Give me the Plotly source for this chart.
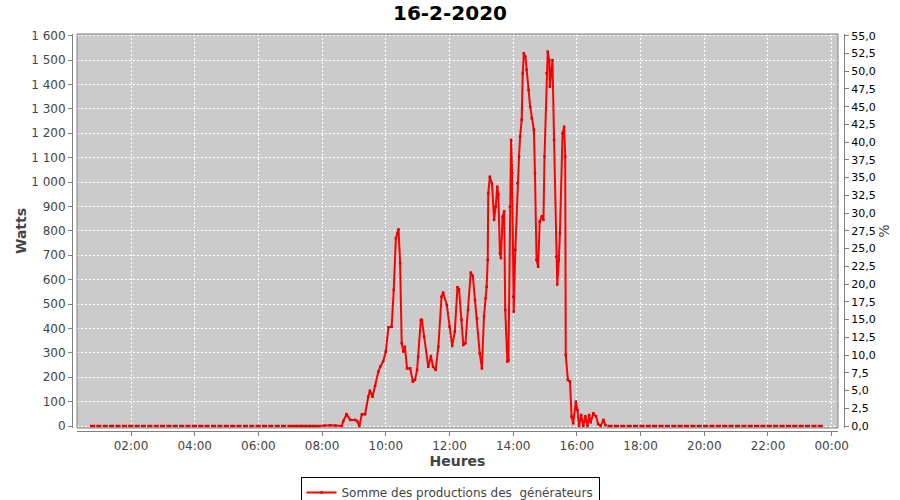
import plotly.graph_objects as go
import pandas as pd

DAY = "2020-02-16"
TITLE = "16-2-2020"
SERIES_NAME = "Somme des productions des \u00a0générateurs"

# Night readings (short runs of zero readings, start times)
morning_dash_times = ["00:45", "00:57", "01:09", "01:21", "01:33", "01:45", "01:57", "02:09",
                      "02:21", "02:33", "02:45", "02:57", "03:09", "03:21", "03:33", "03:45",
                      "03:57", "04:09", "04:21", "04:33", "04:45", "04:57", "05:09", "05:21",
                      "05:33", "05:45", "05:57", "06:09", "06:21", "06:33", "06:45", "06:57",
                      "07:06", "07:14", "07:22", "07:30", "07:38", "07:46"]
evening_dash_times = ["17:00", "17:12", "17:24", "17:36", "17:48", "18:00", "18:12", "18:24",
                      "18:36", "18:48", "19:00", "19:12", "19:24", "19:36", "19:48", "20:00",
                      "20:12", "20:24", "20:36", "20:48", "21:00", "21:12", "21:24", "21:36",
                      "21:48", "22:00", "22:12", "22:24", "22:36", "22:48", "23:00", "23:12",
                      "23:24", "23:36"]
night_watts = 0

# Daytime production (Watts)
day_times = ["07:55", "08:05", "08:15", "08:25", "08:37", "08:40", "08:46", "08:53", "09:02",
             "09:06", "09:10", "09:15", "09:21", "09:27", "09:30", "09:35", "09:40", "09:46",
             "09:50", "09:55", "10:00", "10:05", "10:11", "10:15", "10:19", "10:22", "10:24",
             "10:27", "10:30", "10:33", "10:36", "10:40", "10:46", "10:51", "10:55", "10:59",
             "11:01", "11:06", "11:08", "11:12", "11:20", "11:25", "11:29", "11:34", "11:39",
             "11:45", "11:48", "11:55", "12:00", "12:05", "12:10", "12:15", "12:18", "12:23",
             "12:26", "12:30", "12:35", "12:40", "12:44", "12:48", "12:52", "12:57", "13:01",
             "13:05", "13:08", "13:10", "13:12", "13:13", "13:16", "13:20", "13:24", "13:27",
             "13:30", "13:32", "13:35", "13:37", "13:40", "13:43", "13:45", "13:49", "13:51",
             "13:54", "13:56", "13:58", "14:00", "14:01", "14:04", "14:08", "14:11", "14:13",
             "14:16", "14:18", "14:20", "14:23", "14:25", "14:29", "14:32", "14:35", "14:39",
             "14:41", "14:44", "14:47", "14:50", "14:54", "14:57", "14:59", "15:03", "15:05",
             "15:08", "15:09", "15:12", "15:14", "15:17", "15:21", "15:23", "15:26", "15:28",
             "15:33", "15:36", "15:38", "15:39", "15:43", "15:47", "15:50", "15:53", "15:58",
             "16:01", "16:04", "16:08", "16:12", "16:16", "16:20", "16:23", "16:26", "16:31",
             "16:36", "16:40", "16:45", "16:50", "16:54"]
day_watts = [0, 2, 3, 2, 0, 20, 49, 25, 25,
             20, 0, 48, 48, 120, 145, 120, 165, 223,
             245, 264, 305, 405, 407, 558, 770, 790, 806,
             667, 339, 305, 325, 236, 236, 182, 189, 230,
             284, 435, 435, 366, 243, 287, 243, 230, 325,
             530, 547, 496, 407, 328, 387, 569, 560, 435,
             332, 339, 476, 629, 615, 517, 441, 298, 236,
             450, 523, 571, 681, 954, 1022, 995, 845, 899,
             981, 950, 708, 688, 858, 880, 476, 264, 270,
             899, 1173, 1037, 530, 469, 722, 995, 1104, 1186,
             1255, 1446, 1528, 1515, 1460, 1378, 1309, 1262, 1214,
             1036, 681, 653, 838, 860, 845, 1104, 1446, 1535,
             1500, 1391, 1460, 1500, 1173, 694, 580, 680, 790,
             1200, 1227, 1104, 291, 189, 182, 38, 11, 100,
             65, 0, 45, 0, 40, 0, 45, 15, 52,
             40, 8, 0, 25, 3]

left_ticks_step = 100
right_ticks_step = 2.5
left_max = 1600
right_max = 55.0

# ---- build series (None breaks between isolated night readings) ----
def ts(hm):
    return pd.Timestamp(f"{DAY} {hm}")

xs, ys = [], []
for hm in morning_dash_times:
    xs += [ts(hm), ts(hm) + pd.Timedelta(minutes=5), None]
    ys += [night_watts, night_watts, None]
xs += [ts(h) for h in day_times] + [None]
ys += list(day_watts) + [None]
for hm in evening_dash_times:
    xs += [ts(hm), ts(hm) + pd.Timedelta(minutes=5), None]
    ys += [night_watts, night_watts, None]

# ---- geometry ----
W, H = 900, 500
ml, mr, mt, mb = 72, 56, 34, 69
pw, ph = W - ml - mr, H - mt - mb
plot_l, plot_r, plot_t, plot_b = 77, 838, 34, 428
xdom = [(plot_l - ml) / pw, (plot_r - ml) / pw]
ydom = [(H - mb - plot_b) / ph, (H - mb - plot_t) / ph]

y_lo, y_hi = -8.2, 1607
r = right_max / left_max

x_start = ts("00:00") + pd.Timedelta(hours=0.3046)
x_end = ts("00:00") + pd.Timedelta(hours=24.198)

grey = "#808080"
txt = "#444444"

fig = go.Figure()
fig.add_trace(go.Scatter(
    x=xs, y=ys, mode="lines+markers", name=SERIES_NAME,
    line=dict(color="#FF0000", width=2),
    marker=dict(color="#E00000", size=2.5, symbol="square"),
    connectgaps=False, yaxis="y",
))
# invisible trace to activate right axis
fig.add_trace(go.Scatter(x=[x_start], y=[0], yaxis="y2", showlegend=False,
                         mode="markers", marker=dict(opacity=0), hoverinfo="skip"))

fig.update_layout(
    width=W, height=H,
    margin=dict(l=ml, r=mr, t=mt, b=mb, autoexpand=False),
    paper_bgcolor="white", plot_bgcolor="#CBCBCB",
    separators=", ",
    font=dict(family="DejaVu Sans", size=12, color=txt),
    title=dict(text=f"<b>{TITLE}</b>", x=0.5, xref="container", xanchor="center",
               y=1 - 12.5 / H, yref="container", yanchor="middle",
               font=dict(size=20, color="black", family="DejaVu Sans")),
    showlegend=True,
    legend=dict(orientation="h", x=(450 - ml) / pw, xanchor="center",
                y=-(477 - (H - mb)) / ph, yanchor="top",
                bordercolor="black", borderwidth=1, bgcolor="white",
                font=dict(size=12, color=txt), itemwidth=30),
    xaxis=dict(
        type="date", range=[x_start, x_end], domain=xdom,
        anchor="free", position=0,
        tickformat="%H:%M", dtick=2 * 3600 * 1000, tick0=ts("00:00"),
        showline=True, linecolor=grey, linewidth=1,
        ticks="outside", ticklen=4, tickcolor=grey,
        showgrid=True, gridcolor="white", griddash="2px,2px", gridwidth=1,
        zeroline=False, tickfont=dict(size=12, color=txt),
        title=dict(text="<b>Heures</b>", font=dict(size=14, color=txt), standoff=2),
    ),
    yaxis=dict(
        range=[y_lo, y_hi], domain=ydom, anchor="free", position=0,
        dtick=left_ticks_step, tick0=0, tickformat=",.0f",
        showline=True, linecolor=grey, linewidth=1,
        ticks="outside", ticklen=4, tickcolor=grey,
        showgrid=True, gridcolor="white", griddash="2px,2px", gridwidth=1,
        zeroline=False, tickfont=dict(size=12, color=txt),
        title=dict(text="<b>Watts</b>", font=dict(size=14, color=txt), standoff=0),
    ),
    yaxis2=dict(
        range=[y_lo * r, y_hi * r], domain=ydom, overlaying="y", side="right",
        anchor="free", position=1,
        dtick=right_ticks_step, tick0=0, tickformat=".1f",
        showline=True, linecolor=grey, linewidth=1,
        ticks="outside", ticklen=4, tickcolor=grey,
        showgrid=False, zeroline=False, tickfont=dict(size=11, color="black"),
        title=dict(text="%", font=dict(size=14, color=txt), standoff=2),
    ),
    shapes=[dict(type="rect", xref="x domain", yref="y domain", x0=0, x1=1, y0=0, y1=1,
                 line=dict(color=grey, width=1), fillcolor="rgba(0,0,0,0)", layer="above")],
)

fig.write_html("out.html", config={"displayModeBar": False},
               post_script="document.body.style.margin='0';document.body.style.padding='0';")
